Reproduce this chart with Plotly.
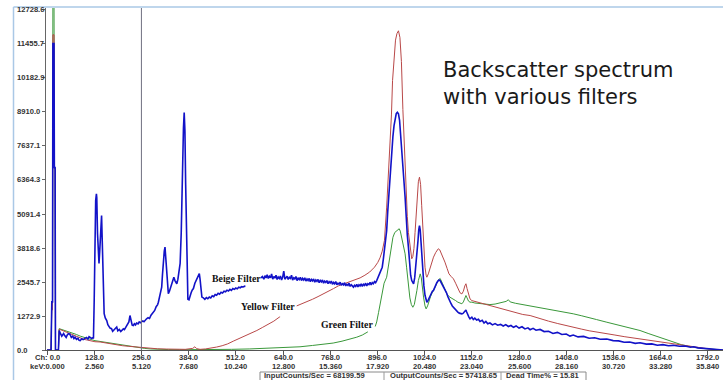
import plotly.graph_objects as go

# ---------------- data ----------------
# Beige filter (blue) spectrum: channel / counts (None = break in the trace)
beige_ch = [0, 11, 13, 15, 16, 19, 20, 22, 23, 31, 33, 35, 37, 40, 42, 45, 48, 52, 55, 58, 62, 66, 70, 73, 76, 80, 84, 87, 90, 94, 98,
            103, 107, 111, 114, 117, 121, 124, 126, 128, 130, 132, 134, 135, 137, 139, 141, 143, 145, 147, 148, 149, 151, 153, 155,
            158, 162, 165, 168, 171, 175, 178, 182, 186, 189, 192, 196, 200, 203, 207, 210, 214, 218, 222, 225, 228, 231, 234, 237,
            240, 243, 247, 250, 253, 256, 260, 263, 266, 270, 274, 278, 282, 285, 288, 292, 296, 300, 302, 305, 308, 311, 313, 315,
            318, 320, 322, 325, 327, 329, 332, 335, 338, 341, 344, 347, 350, 352, 355, 358, 361, 364, 366, 368, 370, 372, 374, 376,
            378, 380, 382, 385, 388, 391, 394, 397, 401, 404, 408, 411, 413, 415, 417, 420, 424, 428, 432, 436, 440, 444, 448, 452,
            456, 460, 464, 468, 472, 476, 480, 484, 488, 492, 496, 500, 504, 508, 512, 516, 520, 524, 528, 532, 536, 538, 540,
            580, 584, 588, 591, 594, 597, 600, 603, 606, 609, 612, 615, 618, 621, 624, 627, 630, 633, 636, 639, 642, 645, 648, 651,
            654, 657, 660, 663, 666, 669, 672, 675, 678, 681, 684, 687, 690, 693, 696, 699, 702, 705, 708, 711, 714, 717, 720, 723,
            726, 729, 732, 735, 738, 741, 744, 747, 750, 753, 756, 759, 762, 765, 768, 771, 774, 777, 780, 783, 786, 789, 792, 795,
            798, 801, 804, 807, 810, 813, 816, 819, 822, 825, 828, 831, 834, 837, 840, 843, 846, 849, 852, 855, 858, 861, 864, 867,
            870, 873, 876, 879, 882, 885, 888, 891, 894, 897, 900, 903, 906, 909, 912, 915, 918, 921, 924, 927, 930, 933, 935, 938,
            941, 944, 947, 950, 953, 956, 959, 962, 965, 968, 971, 974, 977, 980, 983, 986, 989, 992, 994, 997, 1000, 1003, 1006,
            1008, 1010, 1012, 1015, 1017, 1019, 1022, 1025, 1028, 1030, 1033, 1036, 1039, 1042, 1045, 1048, 1051, 1054, 1057, 1060,
            1063, 1066, 1069, 1072, 1075, 1079, 1083, 1087, 1091, 1095, 1099, 1102, 1106, 1110, 1114, 1118, 1122, 1125, 1128, 1131,
            1134, 1136, 1138, 1141, 1144, 1147, 1152, 1156, 1160, 1165, 1170, 1174, 1180, 1185, 1190, 1195, 1201, 1208, 1215, 1222,
            1230, 1237, 1244, 1251, 1258, 1265, 1272, 1280, 1288, 1296, 1304, 1310, 1318, 1326, 1337, 1348, 1360, 1372, 1384, 1396,
            1408, 1418, 1427, 1440, 1455, 1470, 1485, 1500, 1518, 1535, 1550, 1565, 1580, 1595, 1608, 1625, 1640, 1655, 1670, 1685,
            1698, 1715, 1730, 1745, 1753, 1765, 1778, 1789, 1800, 1810, 1820, 1833]
beige_counts = [0, 0, 1800, 1800, 11470, 11470, 6830, 6830, 0, 0, 730, 640, 600, 520, 560, 620, 540, 470, 560, 610, 590, 470, 520, 430, 480, 400, 440, 360, 350, 420, 390,
                430, 470, 410, 500, 470, 430, 460, 430, 1850, 3900, 5600, 5850, 5700, 4360, 3600, 3240, 3700, 4360, 4900, 5030, 4500, 3090, 2000, 1360,
                1200, 1100, 950, 870, 820, 800, 700, 760, 830, 860, 720, 770, 690, 730, 790, 760, 860, 920, 1050, 1290, 1050, 930, 917, 980,
                940, 1010, 980, 1050, 1020, 1040, 1090, 1060, 1130, 1170, 1210, 1180, 1300, 1350, 1415, 1480, 1620, 1700, 1790, 1950, 2150, 2350, 2800, 3240,
                3700, 3850, 3500, 3090, 2500, 2110, 2200, 2350, 2500, 2620, 2725, 2600, 2520, 2480, 2650, 2900, 3240, 4400, 6000, 7300, 8300, 8890, 8200, 6200,
                4300, 2600, 1900, 1880, 2050, 2150, 2250, 2300, 2500, 2600, 2700, 2800, 2860, 2650, 2350, 1980, 1950, 1900, 1960, 1920, 1980, 1950, 2030, 2000,
                2080, 2050, 2120, 2090, 2160, 2130, 2200, 2180, 2240, 2210, 2270, 2230, 2300, 2270, 2320, 2290, 2350, 2330, 2370, 2360, 2390, 2380, None,
                2700, 2750, 2650, 2780, 2700, 2820, 2680, 2760, 2700, 2850, 2650, 2750, 2690, 2800, 2640, 2730, 2680, 2770, 2620, 2720, 2950, 2650, 2700, 2760,
                2640, 2720, 2680, 2800, 2620, 2700, 2660, 2750, 2600, 2690, 2640, 2720, 2600, 2680, 2620, 2700, 2580, 2660, 2600, 2680, 2560, 2640, 2590, 2660,
                2540, 2620, 2570, 2640, 2520, 2600, 2550, 2620, 2500, 2580, 2530, 2600, 2480, 2560, 2510, 2580, 2460, 2530, 2480, 2560, 2440, 2500, 2460, 2540,
                2420, 2480, 2440, 2520, 2400, 2460, 2420, 2500, 2380, 2440, 2400, 2350, 2420, 2380, 2460, 2360, 2440, 2400, 2480, 2380, 2460, 2420, 2500, 2400,
                2480, 2450, 2530, 2440, 2520, 2480, 2560, 2520, 2600, 2700, 2800, 2900, 3000, 3100, 3400, 3700, 4100, 4470, 5200, 5900, 6600, 7200, 7590, 8000,
                8400, 8700, 8850, 8900, 8840, 8600, 8100, 7590, 6900, 6300, 5720, 4900, 4300, 3850, 3200, 2800, 2600, 2500, 2480, 2700, 3100, 3475, 4100,
                4500, 4660, 4500, 3800, 3300, 2850, 2400, 2050, 1850, 1790, 1850, 1950, 2050, 2150, 2200, 2230, 2350, 2450, 2520, 2580,
                2620, 2600, 2520, 2450, 2380, 2290, 2150, 2000, 1850, 1750, 1650, 1600, 1520, 1450, 1420, 1380, 1360, 1355, 1370, 1420,
                1480, 1500, 1420, 1300, 1230, 1170, 1230, 1140, 1190, 1120, 1150, 1070, 1110, 1010, 1070, 980, 1010, 940, 990, 930,
                960, 900, 950, 880, 917, 850, 900, 820, 870, 790, 830, 760, 810, 740, 770, 690, 700, 620, 660, 580,
                600, 520, 560, 490, 510, 440, 460, 400, 410, 350, 340, 290, 300, 250, 270, 220, 230, 180, 200, 160,
                175, 140, 150, 105, 120, 80, 65, 45, 30, 15, 5, 0]

# Yellow filter (red) spectrum
yellow_ch = [0, 11, 13, 15, 16, 19, 20, 22, 23, 31, 33, 40, 50, 60, 70, 80, 90, 100, 110, 120, 130, 144, 160, 175, 189, 205, 220, 234,
             250, 265, 280, 300, 325, 350, 375, 395, 401, 406, 415, 430, 445, 460, 475, 490, 505, 520, 535, 550, 569, 585, 600,
             615, 630, 632, 650, 677, 690, 705, 720, 735, 750, 765, 777, 790, 805, 820, 835, 849, 862, 875, 888, 897, 903, 909, 915,
             918, 921, 925, 930, 934, 937, 941, 945, 949, 953, 957, 961, 965, 968, 971, 974, 977, 980, 984, 987, 989, 992, 995, 998,
             1001, 1004, 1007, 1010, 1013, 1016, 1019, 1022, 1025, 1028, 1030, 1034, 1038, 1042, 1048, 1054, 1058, 1061, 1065, 1070,
             1075, 1079, 1085, 1090, 1096, 1102, 1108, 1114, 1120, 1125, 1129, 1133, 1136, 1139, 1143, 1147, 1152, 1160, 1174, 1188,
             1201, 1215, 1230, 1251, 1270, 1290, 1310, 1337, 1360, 1385, 1410, 1427, 1450, 1470, 1490, 1518, 1540, 1565, 1590, 1608,
             1630, 1650, 1670, 1698, 1720, 1740, 1753, 1770, 1789, 1805, 1820, 1833]
yellow_counts = [0, 0, 1500, 1500, 11800, 11800, 6800, 6800, 0, 0, 780, 740, 680, 620, 560, 500, 450, 400, 370, 340, 310, 300, 260, 230, 190, 160, 140, 120,
                 100, 80, 60, 45, 35, 25, 25, 60, 120, 50, 25, 40, 70, 110, 160, 230, 330, 420, 520, 620, 730, 850, 960,
                 1080, 1230, 1240, None, 1650, 1720, 1820, 1900, 2000, 2100, 2200, 2300, 2400, 2470, 2550, 2620, 2700, 2800, 2920, 3100, 3280, 3450, 3700, 4100,
                 4600, 5350, 6400, 7590, 8800, 10090, 11000, 11600, 11850, 11950, 11700, 10800, 9000, 7800, 6800, 5800, 5000, 4400, 3900, 3550, 3415, 3500, 3800, 4400,
                 5110, 5800, 6300, 6470, 6200, 5400, 4470, 3600, 3100, 2800, 2725, 2850, 3050, 3250, 3475, 3650, 3750, 3790, 3750, 3600,
                 3450, 3290, 3050, 2850, 2750, 2665, 2500, 2300, 2140, 2100, 2200, 2400, 2480, 2300, 2050, 1915, 1850, 1820, 1790, 1730,
                 1665, 1610, 1560, 1480, 1410, 1330, 1290, 1170, 1080, 990, 900, 855, 780, 720, 680, 630, 560, 500, 450, 420,
                 360, 310, 270, 230, 180, 130, 105, 70, 45, 20, 5, 0]

# Green filter (green) spectrum
green_ch = [0, 11, 13, 15, 16, 19, 20, 22, 23, 31, 33, 40, 50, 60, 70, 80, 90, 100, 110, 120, 130, 144, 160, 175, 189, 205, 220, 234,
            250, 265, 280, 300, 330, 360, 400, 450, 500, 550, 600, 650, 686, 720, 750, 776, 800, 820, 840, 855, 867, 870, 880,
            890, 894, 899, 903, 908, 914, 921, 927, 932, 938, 943, 948, 952, 955, 958, 962, 966, 971, 975, 980, 984, 988, 992, 996,
            1000, 1003, 1007, 1010, 1012, 1015, 1018, 1021, 1025, 1028, 1032, 1036, 1040, 1044, 1048, 1054, 1060, 1066, 1072, 1079,
            1085, 1091, 1097, 1102, 1108, 1114, 1120, 1125, 1129, 1133, 1136, 1139, 1143, 1147, 1152, 1160, 1174, 1188, 1201, 1215,
            1230, 1245, 1251, 1256, 1270, 1290, 1310, 1337, 1360, 1385, 1410, 1427, 1450, 1470, 1490, 1518, 1540, 1565, 1590, 1608,
            1630, 1650, 1670, 1698, 1720, 1740, 1753, 1770, 1789, 1805, 1820, 1833]
green_counts = [0, 0, 1800, 1800, 13500, 13500, 6800, 6800, 0, 0, 800, 770, 720, 680, 640, 580, 520, 470, 430, 390, 350, 320, 280, 240, 200, 170, 130, 110,
                80, 60, 40, 25, 15, 10, 10, 15, 25, 40, 60, 90, 120, 170, 220, 260, 330, 400, 480, 560, 650, 680, None,
                880, 1050, 1400, 1700, 2150, 2500, 2725, 3200, 3700, 4220, 4400, 4470, 4530, 4540, 4450, 4220, 3950, 3600, 3100, 2350, 1950, 1700, 1600, 1700,
                1950, 2230, 2600, 2820, 2850, 2700, 2300, 1980, 1650, 1540, 1650, 1850, 2000, 2130, 2230, 2400, 2600, 2680, 2500, 2230,
                2080, 1990, 1950, 1915, 1850, 1790, 1750, 1730, 1800, 1950, 2040, 1950, 1830, 1790, 1790, 1760, 1730, 1720, 1700, 1720,
                1760, 1820, 1880, 1800, 1750, 1700, 1660, 1600, 1540, 1470, 1400, 1355, 1280, 1220, 1140, 1040, 960, 870, 790, 730,
                620, 520, 420, 290, 200, 140, 105, 70, 45, 20, 5, 0]

# axis ticks
x_tick_ch = [0, 128, 256, 384, 512, 640, 768, 896, 1024, 1152, 1280, 1408, 1536, 1664, 1792]
x_tick_ch_text = ["Ch: 0.0", "128.0", "256.0", "384.0", "512.0", "640.0", "768.0", "896.0", "1024.0", "1152.0",
                  "1280.0", "1408.0", "1536.0", "1664.0", "1792.0"]
x_tick_kev_text = ["keV:0.000", "2.560", "5.120", "7.680", "10.240", "12.800", "15.360", "17.920", "20.480", "23.040",
                   "25.600", "28.160", "30.720", "33.280", "35.840"]
y_tick_vals = [0.0, 1272.9, 2545.7, 3818.6, 5091.4, 6364.3, 7637.1, 8910.0, 10182.9, 11455.7, 12728.6]
y_tick_text = ["0.0", "1272.9", "2545.7", "3818.6", "5091.4", "6364.3", "7637.1", "8910.0", "10182.9", "11455.7", "12728.6"]

cursor_ch = 256
input_counts = "68199.59"
output_counts = "57418.65"
dead_time = "15.81"

# ---------------- figure ----------------
W, H = 723, 380
ML, MR, MT, MB = 46, 0, 8, 30
PW, PH = W - ML - MR, H - MT - MB


def px(xp):
    return (xp - ML) / PW


def py(yp):
    return (H - MB - yp) / PH


fig = go.Figure()
for ch, cnt, col, wd in [(green_ch, green_counts, "#3a983a", 1.0),
                         (yellow_ch, yellow_counts, "#b94848", 1.0),
                         (beige_ch, beige_counts, "#1212c8", 1.6)]:
    fig.add_trace(go.Scatter(x=ch, y=cnt, mode="lines", line=dict(color=col, width=wd),
                             hoverinfo="skip", showlegend=False))

tick_font = dict(family="Liberation Sans", size=7.6, color="#333333", weight="bold")

fig.update_layout(
    width=W, height=H,
    margin=dict(l=ML, r=MR, t=MT, b=MB, pad=0),
    paper_bgcolor="white", plot_bgcolor="white",
    showlegend=False,
    xaxis=dict(range=[-2.7, 1833], showgrid=False, zeroline=False, showline=True,
               linecolor="#555555", linewidth=1, ticks="outside", ticklen=4, tickcolor="#555555",
               tickvals=x_tick_ch, showticklabels=False, fixedrange=True, automargin=False),
    yaxis=dict(range=[0, 12803], showgrid=False, zeroline=False, showline=True,
               linecolor="#666666", linewidth=1, ticks="outside", ticklen=3, tickcolor="#666666",
               tickvals=y_tick_vals, showticklabels=False, fixedrange=True, automargin=False),
)

# x tick labels (two rows: channel and keV)
for v, t1, t2 in zip(x_tick_ch, x_tick_ch_text, x_tick_kev_text):
    fig.add_annotation(x=v, xref="x", y=py(357.5), yref="paper", text=t1, showarrow=False,
                       xanchor="center", yanchor="middle", font=tick_font)
    fig.add_annotation(x=v, xref="x", y=py(366.5), yref="paper", text=t2, showarrow=False,
                       xanchor="center", yanchor="middle", font=tick_font)

# left-aligned y tick labels
for v, t in zip(y_tick_vals, y_tick_text):
    fig.add_annotation(x=px(15), xref="paper", y=v, yref="y", text=t, showarrow=False,
                       xanchor="left", yanchor="middle", font=tick_font)

# cursor line at channel 256
fig.add_shape(type="line", x0=cursor_ch, x1=cursor_ch, xref="x", y0=0, y1=1, yref="paper",
              line=dict(color="#707080", width=1))

# light-blue window frame
fig.add_shape(type="line", x0=px(13.5), x1=px(13.5), y0=py(7), y1=py(381), xref="paper", yref="paper",
              line=dict(color="#aac8e6", width=1.5))
fig.add_shape(type="line", x0=px(13.5), x1=px(724), y0=py(7), y1=py(7), xref="paper", yref="paper",
              line=dict(color="#aac8e6", width=1.5))

# filter labels
lab_font = dict(family="Liberation Serif", size=9.8, color="#111111", weight="bold")
for txt, xc, yc in [("Beige Filter", 442, 2685), ("Yellow Filter", 521, 1621), ("Green Filter", 738, 973)]:
    fig.add_annotation(x=xc, y=yc, xref="x", yref="y", text=txt, showarrow=False,
                       xanchor="left", yanchor="middle", font=lab_font)

# big title text
fig.add_annotation(x=px(441), y=py(56), xref="paper", yref="paper",
                   text="Backscatter spectrum<br>with various filters", showarrow=False,
                   xanchor="left", yanchor="top", align="left",
                   font=dict(family="DejaVu Sans", size=21, color="#1a1a1a"))

# status bar
fig.add_shape(type="rect", x0=px(260), x1=px(586), y0=py(372), y1=py(382), xref="paper", yref="paper",
              line=dict(color="#8a8a8a", width=1), fillcolor="white")
for sx in [384, 501]:
    fig.add_shape(type="line", x0=px(sx), x1=px(sx), y0=py(372), y1=py(382), xref="paper", yref="paper",
                  line=dict(color="#9a9a9a", width=1))
for txt, sx in [("InputCounts/Sec = " + input_counts, 262),
                ("OutputCounts/Sec = " + output_counts, 388),
                ("Dead Time% = " + dead_time, 504)]:
    fig.add_annotation(x=px(sx), y=py(375.8), xref="paper", yref="paper", text=txt, showarrow=False,
                       xanchor="left", yanchor="middle", font=tick_font)

fig.write_html("out.html", config={"displayModeBar": False},
               post_script="document.body.style.margin='0px';document.body.style.overflow='hidden';")
